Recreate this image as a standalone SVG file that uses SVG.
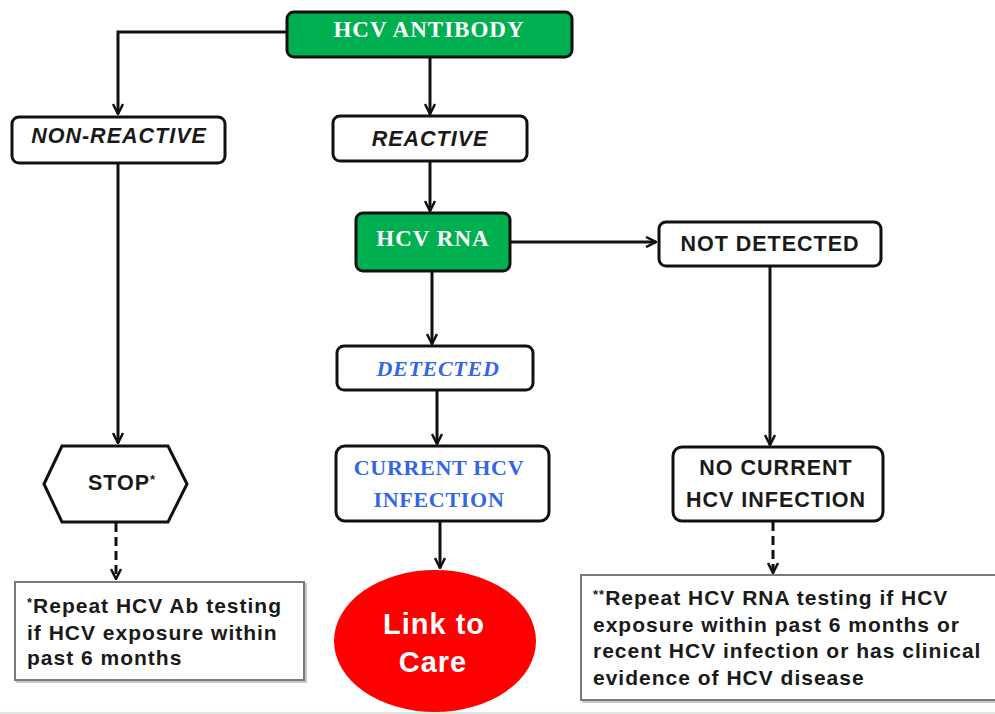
<svg xmlns="http://www.w3.org/2000/svg" width="995" height="714" viewBox="0 0 995 714">
  <style>
    .box { fill: #ffffff; stroke: #111111; stroke-width: 3; }
    .green { fill: #00b050; stroke: #111111; stroke-width: 3; }
    .note { fill: #ffffff; stroke: #7a7a7a; stroke-width: 2; }
    .shadow { fill: none; stroke: #c8c8c8; stroke-width: 2; }
    .conn { fill: none; stroke: #111111; stroke-width: 3; }
    .dash { fill: none; stroke: #111111; stroke-width: 3; stroke-dasharray: 9 5; }
    .serif-w { font-family: "Liberation Serif", "Times New Roman", serif; font-weight: bold; fill: #ffffff; font-size: 23px; letter-spacing: 1px; text-anchor: middle; }
    .serif-b { font-family: "Liberation Serif", "Times New Roman", serif; font-weight: bold; fill: #3366e6; font-size: 22px; letter-spacing: 0.7px; text-anchor: middle; }
    .sans { font-family: "Liberation Sans", Arial, sans-serif; font-weight: bold; fill: #1a1a1a; font-size: 21.5px; letter-spacing: 1px; text-anchor: middle; }
    .note-t { font-family: "Liberation Sans", Arial, sans-serif; font-weight: bold; fill: #1a1a1a; font-size: 21px; letter-spacing: 1px; }
    .care { font-family: "Liberation Sans", Arial, sans-serif; font-weight: bold; fill: #ffffff; font-size: 29px; letter-spacing: 1px; text-anchor: middle; }
  </style>
  <defs>
    <marker id="chev" viewBox="0 0 12 12" refX="11" refY="6" markerWidth="12" markerHeight="12" markerUnits="userSpaceOnUse" orient="auto">
      <path d="M1,1 L11,6 L1,11" fill="none" stroke="#111111" stroke-width="2.5"/>
    </marker>
  </defs>

  <rect x="0" y="0" width="995" height="714" fill="#ffffff"/>
  <rect x="0" y="712" width="995" height="2" fill="#dfe7df"/>

  <!-- connectors -->
  <g id="connectors">
    <path class="conn" d="M287,32 H118 V114" marker-end="url(#chev)"/>
    <path class="conn" d="M430,57 V114" marker-end="url(#chev)"/>
    <path class="conn" d="M430,161 V211" marker-end="url(#chev)"/>
    <path class="conn" d="M510,242 H656" marker-end="url(#chev)"/>
    <path class="conn" d="M432,271 V344" marker-end="url(#chev)"/>
    <path class="conn" d="M437,391 V444" marker-end="url(#chev)"/>
    <path class="conn" d="M440,521 V568" marker-end="url(#chev)"/>
    <path class="conn" d="M118,164 V443" marker-end="url(#chev)"/>
    <path class="conn" d="M770,267 V445" marker-end="url(#chev)"/>
    <path class="dash" d="M116,523 V579" marker-end="url(#chev)"/>
    <path class="dash" d="M773,522 V573" marker-end="url(#chev)"/>
  </g>

  <g id="hcv-antibody">
    <rect class="green" x="287" y="12" width="285" height="45" rx="7"/>
    <text class="serif-w" x="429" y="37">HCV ANTIBODY</text>
  </g>

  <g id="non-reactive">
    <rect class="box" x="12" y="117" width="213" height="46" rx="7"/>
    <text class="sans" x="119" y="143" font-style="italic">NON-REACTIVE</text>
  </g>

  <g id="reactive">
    <rect class="box" x="333" y="116" width="194" height="45" rx="7"/>
    <text class="sans" x="430" y="146" font-style="italic">REACTIVE</text>
  </g>

  <g id="hcv-rna">
    <rect class="green" x="356" y="213" width="154" height="58" rx="7"/>
    <text class="serif-w" x="433" y="246" font-size="22">HCV RNA</text>
  </g>

  <g id="not-detected">
    <rect class="box" x="659" y="222" width="222" height="44" rx="7"/>
    <text class="sans" x="770" y="251">NOT DETECTED</text>
  </g>

  <g id="detected">
    <rect class="box" x="337" y="346" width="196" height="44" rx="7"/>
    <text class="serif-b" x="438" y="376" font-style="italic">DETECTED</text>
  </g>

  <g id="current-infection">
    <rect class="box" x="336" y="446" width="213" height="75" rx="9"/>
    <text class="serif-b" x="439" y="475">CURRENT HCV</text>
    <text class="serif-b" x="439" y="507">INFECTION</text>
  </g>

  <g id="link-to-care">
    <ellipse cx="435" cy="641" rx="101" ry="71" fill="#ff0000"/>
    <text class="care" x="434" y="634">Link to</text>
    <text class="care" x="433" y="672">Care</text>
  </g>

  <g id="stop">
    <polygon class="box" points="44,484 62,446 168,446 187,484 168,522 62,522"/>
    <text class="sans" x="122" y="490" font-size="19">STOP<tspan font-size="13" dy="-6">*</tspan></text>
  </g>

  <g id="no-current-infection">
    <rect class="box" x="673" y="447" width="210" height="74" rx="9"/>
    <text class="sans" x="776" y="475">NO CURRENT</text>
    <text class="sans" x="776" y="507">HCV INFECTION</text>
  </g>

  <g id="note-ab">
    <rect class="shadow" x="17" y="584" width="289" height="98"/>
    <rect class="note" x="15" y="582" width="289" height="98"/>
    <text class="note-t" x="27" y="613"><tspan font-size="13" dy="-6">*</tspan><tspan dy="6">Repeat HCV Ab testing</tspan></text>
    <text class="note-t" x="27" y="640">if HCV exposure within</text>
    <text class="note-t" x="27" y="665">past 6 months</text>
  </g>

  <g id="note-rna">
    <rect class="shadow" x="583" y="577" width="420" height="125"/>
    <rect class="note" x="581" y="575" width="420" height="125"/>
    <text class="note-t" x="593" y="605"><tspan font-size="13" dy="-6">**</tspan><tspan dy="6">Repeat HCV RNA testing if HCV</tspan></text>
    <text class="note-t" x="593" y="632">exposure within past 6 months or</text>
    <text class="note-t" x="593" y="658">recent HCV infection or has clinical</text>
    <text class="note-t" x="593" y="685">evidence of HCV disease</text>
  </g>
</svg>
